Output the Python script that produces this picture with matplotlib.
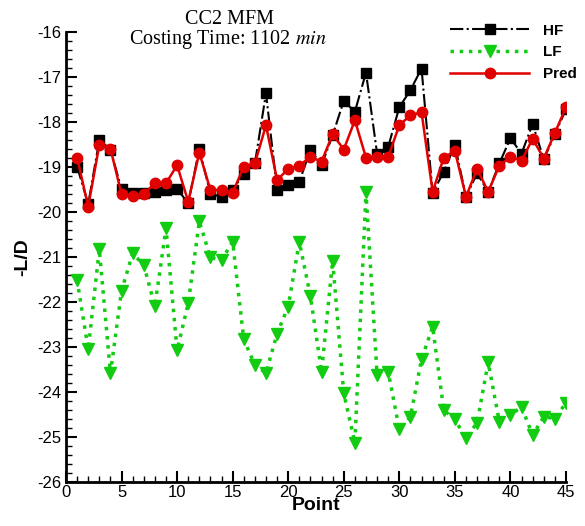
import matplotlib
matplotlib.use("Agg")
import matplotlib.pyplot as plt
from matplotlib.ticker import MultipleLocator
import numpy as np

points = np.arange(1, 46)

hf = [-18.99, -19.82, -18.40, -18.61, -19.49, -19.57, -19.57, -19.55, -19.50, -19.48,
      -19.81, -18.59, -19.60, -19.66, -19.50, -19.16, -18.92, -17.36, -19.50, -19.41,
      -19.33, -18.61, -18.96, -18.29, -17.53, -17.77, -16.90, -18.70, -18.55, -17.67,
      -17.29, -16.81, -19.58, -19.10, -18.51, -19.66, -19.14, -19.55, -18.92, -18.36,
      -18.70, -18.04, -18.83, -18.27, -17.72]

lf = [-21.51, -23.05, -20.83, -23.58, -21.75, -20.92, -21.18, -22.09, -20.36, -23.07,
      -22.03, -20.21, -21.01, -21.07, -20.66, -22.83, -23.40, -23.58, -22.70, -22.10,
      -20.66, -21.87, -23.55, -21.08, -24.03, -25.13, -19.56, -23.62, -23.55, -24.83,
      -24.55, -23.27, -22.55, -24.40, -24.61, -25.03, -24.68, -23.34, -24.66, -24.51,
      -24.33, -24.96, -24.55, -24.59, -24.24]

pred = [-18.79, -19.88, -18.51, -18.59, -19.60, -19.64, -19.60, -19.36, -19.36, -18.96,
        -19.77, -18.68, -19.51, -19.51, -19.57, -18.99, -18.92, -18.07, -19.29, -19.04,
        -18.97, -18.77, -18.88, -18.27, -18.61, -17.96, -18.79, -18.77, -18.77, -18.07,
        -17.85, -17.78, -19.55, -18.79, -18.64, -19.66, -19.04, -19.55, -18.97, -18.77,
        -18.86, -18.37, -18.81, -18.24, -17.67]

plt.rcParams["font.family"] = ["Liberation Sans", "DejaVu Sans"]
plt.rcParams["mathtext.fontset"] = "stix"
plt.rcParams["axes.unicode_minus"] = False

fig = plt.figure(figsize=(5.85, 5.26), dpi=100)
ax = fig.add_axes([0.1128, 0.0837, 0.8547, 0.8553])

ax.plot(points, hf, color="black", ls="-.", lw=1.5, marker="s", ms=6.5, label="HF", zorder=3)
ax.plot(points, lf, color="#11cc11", ls=":", lw=2.5, marker="v", ms=8, label="LF", zorder=2)
ax.plot(points, pred, color="#e00000", ls="-", lw=1.8, marker="o", ms=7.5, label="Pred", zorder=4)

ax.set(xlim=(0, 45), ylim=(-26, -16))
ax.xaxis.set_major_locator(MultipleLocator(5))
ax.xaxis.set_minor_locator(MultipleLocator(1))
ax.yaxis.set_major_locator(MultipleLocator(1))
ax.yaxis.set_minor_locator(MultipleLocator(0.2))
ax.tick_params(which="both", direction="in", labelsize=12, width=1.5)
ax.tick_params(which="major", length=8)
ax.tick_params(which="minor", length=4, width=1)
ax.tick_params(axis="x", pad=2)
for side in ["top", "right"]:
    ax.spines[side].set_visible(False)
for side in ["left", "bottom"]:
    ax.spines[side].set_linewidth(2)

ax.set_xlabel("Point", fontsize=14, fontweight="bold", labelpad=-2)
ax.set_ylabel("-L/D", fontsize=14, fontweight="bold", labelpad=4)

fig.text(0.393, 0.962, "CC2 MFM", fontsize=14.5, family="Liberation Serif", ha="center", va="center")
fig.text(0.39, 0.924, "Costing Time: 1102 $\\mathit{min}$", fontsize=14.5,
         family="Liberation Serif", ha="center", va="center")

leg = ax.legend(loc="upper left", bbox_to_anchor=(0.769, 0.955), bbox_transform=fig.transFigure,
                frameon=False, borderpad=0, borderaxespad=0,
                handlelength=5.2, fontsize=11, labelspacing=0.5, handletextpad=0.9)
for t in leg.get_texts():
    t.set_fontweight("bold")

fig.savefig("out.png", dpi=100)
